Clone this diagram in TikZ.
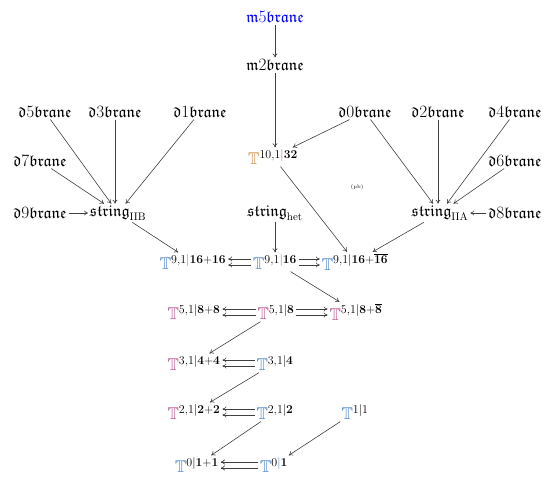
\documentclass[tikz,border=0pt]{standalone}
\usepackage{amsfonts,amsmath,amssymb}
\usepackage{tikz}
\usetikzlibrary{arrows.meta}
\definecolor{tblue}{RGB}{70,130,200}
\definecolor{tpink}{RGB}{185,80,140}
\definecolor{torange}{RGB}{205,140,70}

\begin{document}
\begin{tikzpicture}[x=1pt,y=-1pt]
\tikzstyle{obj}=[inner sep=2pt, outer sep=0pt, font=\fontsize{16}{19}\selectfont]
\tikzstyle{sobj}=[inner sep=2pt, outer sep=0pt, font=\fontsize{17}{20}\selectfont]
\tikzstyle{map}=[-{To[length=4pt,width=5pt]}, draw=black!75, line width=0.6pt]
\useasboundingbox (0,0) rectangle (558,480);

% branes
\node[obj] (m5) at (275,17)  {$\color{blue}\mathfrak{m}5\mathfrak{brane}$};
\node[obj] (m2) at (275,65)  {$\mathfrak{m}2\mathfrak{brane}$};
\node[obj] (d5) at (45,112)  {$\mathfrak{d}5\mathfrak{brane}$};
\node[obj] (d3) at (115,112) {$\mathfrak{d}3\mathfrak{brane}$};
\node[obj] (d1) at (200,112) {$\mathfrak{d}1\mathfrak{brane}$};
\node[obj] (d0) at (365,112) {$\mathfrak{d}0\mathfrak{brane}$};
\node[obj] (d2) at (438,112) {$\mathfrak{d}2\mathfrak{brane}$};
\node[obj] (d4) at (515,112) {$\mathfrak{d}4\mathfrak{brane}$};
\node[obj] (d7) at (40,161)  {$\mathfrak{d}7\mathfrak{brane}$};
\node[obj] (d6) at (515,161) {$\mathfrak{d}6\mathfrak{brane}$};
\node[obj] (d9) at (40,213)  {$\mathfrak{d}9\mathfrak{brane}$};
\node[obj] (d8) at (515,213) {$\mathfrak{d}8\mathfrak{brane}$};

% strings
\node[obj] (sIIB) at (118,213) {$\mathfrak{string}_{\mathrm{IIB}}$};
\node[obj] (shet) at (275,213) {$\mathfrak{string}_{\mathrm{het}}$};
\node[obj] (sIIA) at (440,213) {$\mathfrak{string}_{\mathrm{IIA}}$};

% super spacetimes
\node[sobj] (T10) at (273,157) {$\textcolor{torange}{\mathbb{T}}^{10,1\textcolor{tpink}{|}\mathbf{32}}$};
\node[sobj] (T9a) at (193,262) {$\textcolor{tblue}{\mathbb{T}}^{9,1\textcolor{tblue}{|}\mathbf{16+16}}$};
\node[sobj] (T9)  at (275,262) {$\textcolor{tblue}{\mathbb{T}}^{9,1\textcolor{tblue}{|}\mathbf{16}}$};
\node[sobj] (T9b) at (355,262) {$\textcolor{tblue}{\mathbb{T}}^{9,1|\mathbf{16}+\overline{\mathbf{16}}}$};
\node[sobj] (T5a) at (194,312) {$\textcolor{tpink}{\mathbb{T}}^{5,1|\mathbf{8+8}}$};
\node[sobj] (T5)  at (276,312) {$\textcolor{tpink}{\mathbb{T}}^{5,1|\mathbf{8}}$};
\node[sobj] (T5b) at (356,312) {$\textcolor{tpink}{\mathbb{T}}^{5,1|\mathbf{8}+\overline{\mathbf{8}}}$};
\node[sobj] (T3a) at (194,363) {$\textcolor{tpink}{\mathbb{T}}^{3,1|\mathbf{4+4}}$};
\node[sobj] (T3)  at (275,363) {$\textcolor{tblue}{\mathbb{T}}^{3,1|\mathbf{4}}$};
\node[sobj] (T2a) at (194,412) {$\textcolor{tpink}{\mathbb{T}}^{2,1|\mathbf{2+2}}$};
\node[sobj] (T2)  at (275,412) {$\textcolor{tblue}{\mathbb{T}}^{2,1|\mathbf{2}}$};
\node[sobj] (T11) at (355,412) {$\textcolor{tblue}{\mathbb{T}}^{1|1}$};
\node[sobj] (T0a) at (197,465) {$\textcolor{tblue}{\mathbb{T}}^{0|\mathbf{1+1}}$};
\node[sobj] (T0)  at (274,465) {$\textcolor{tblue}{\mathbb{T}}^{0\textcolor{tblue}{|}\mathbf{1}}$};

\node[font=\fontsize{5}{6}\selectfont] (pb) at (357,187) {(pb)};

% M-theory column
\draw[map] (m5) -- (m2);
\draw[map] (m2) -- (m2 |- T10.north);
\draw[map] (d0) -- (T10);

% IIB
\draw[map] (d5) -- (sIIB);
\draw[map] (d3) -- (d3 |- sIIB.north);
\draw[map] (d1) -- (sIIB);
\draw[map] (d7) -- (sIIB);
\draw[map] (d9) -- (sIIB);

% IIA
\draw[map] (d0) -- (sIIA);
\draw[map] (d2) -- (d2 |- sIIA.north);
\draw[map] (d4) -- (sIIA);
\draw[map] (d6) -- (sIIA);
\draw[map] (d8) -- (sIIA);

% strings to super spacetimes
\draw[map] (sIIB) -- (T9a);
\draw[map] (shet) -- (shet |- T9.north);
\draw[map] (sIIA) -- (T9b);
\draw[map] (T10) -- (T9b);

% double arrows
\draw[map] ([yshift=-3pt]T9.west) -- ([yshift=-3pt]T9a.east);
\draw[map] ([yshift=3pt]T9.west) -- ([yshift=3pt]T9a.east);
\draw[map] ([yshift=-3pt]T9.east) -- ([yshift=-3pt]T9b.west);
\draw[map] ([yshift=3pt]T9.east) -- ([yshift=3pt]T9b.west);
\draw[map] ([yshift=-3pt]T5.west) -- ([yshift=-3pt]T5a.east);
\draw[map] ([yshift=3pt]T5.west) -- ([yshift=3pt]T5a.east);
\draw[map] ([yshift=-3pt]T5.east) -- ([yshift=-3pt]T5b.west);
\draw[map] ([yshift=3pt]T5.east) -- ([yshift=3pt]T5b.west);
\draw[map] ([yshift=-3pt]T3.west) -- ([yshift=-3pt]T3a.east);
\draw[map] ([yshift=3pt]T3.west) -- ([yshift=3pt]T3a.east);
\draw[map] ([yshift=-3pt]T2.west) -- ([yshift=-3pt]T2a.east);
\draw[map] ([yshift=3pt]T2.west) -- ([yshift=3pt]T2a.east);
\draw[map] ([yshift=-3pt]T0.west) -- ([yshift=-3pt]T0a.east);
\draw[map] ([yshift=3pt]T0.west) -- ([yshift=3pt]T0a.east);

% diagonal descents
\draw[map] (T9) -- (T5b);
\draw[map] (T5) -- (T3a);
\draw[map] (T3) -- (T2a);
\draw[map] (T2) -- (T0a);
\draw[map] (T11) -- (T0);
\end{tikzpicture}
\end{document}
